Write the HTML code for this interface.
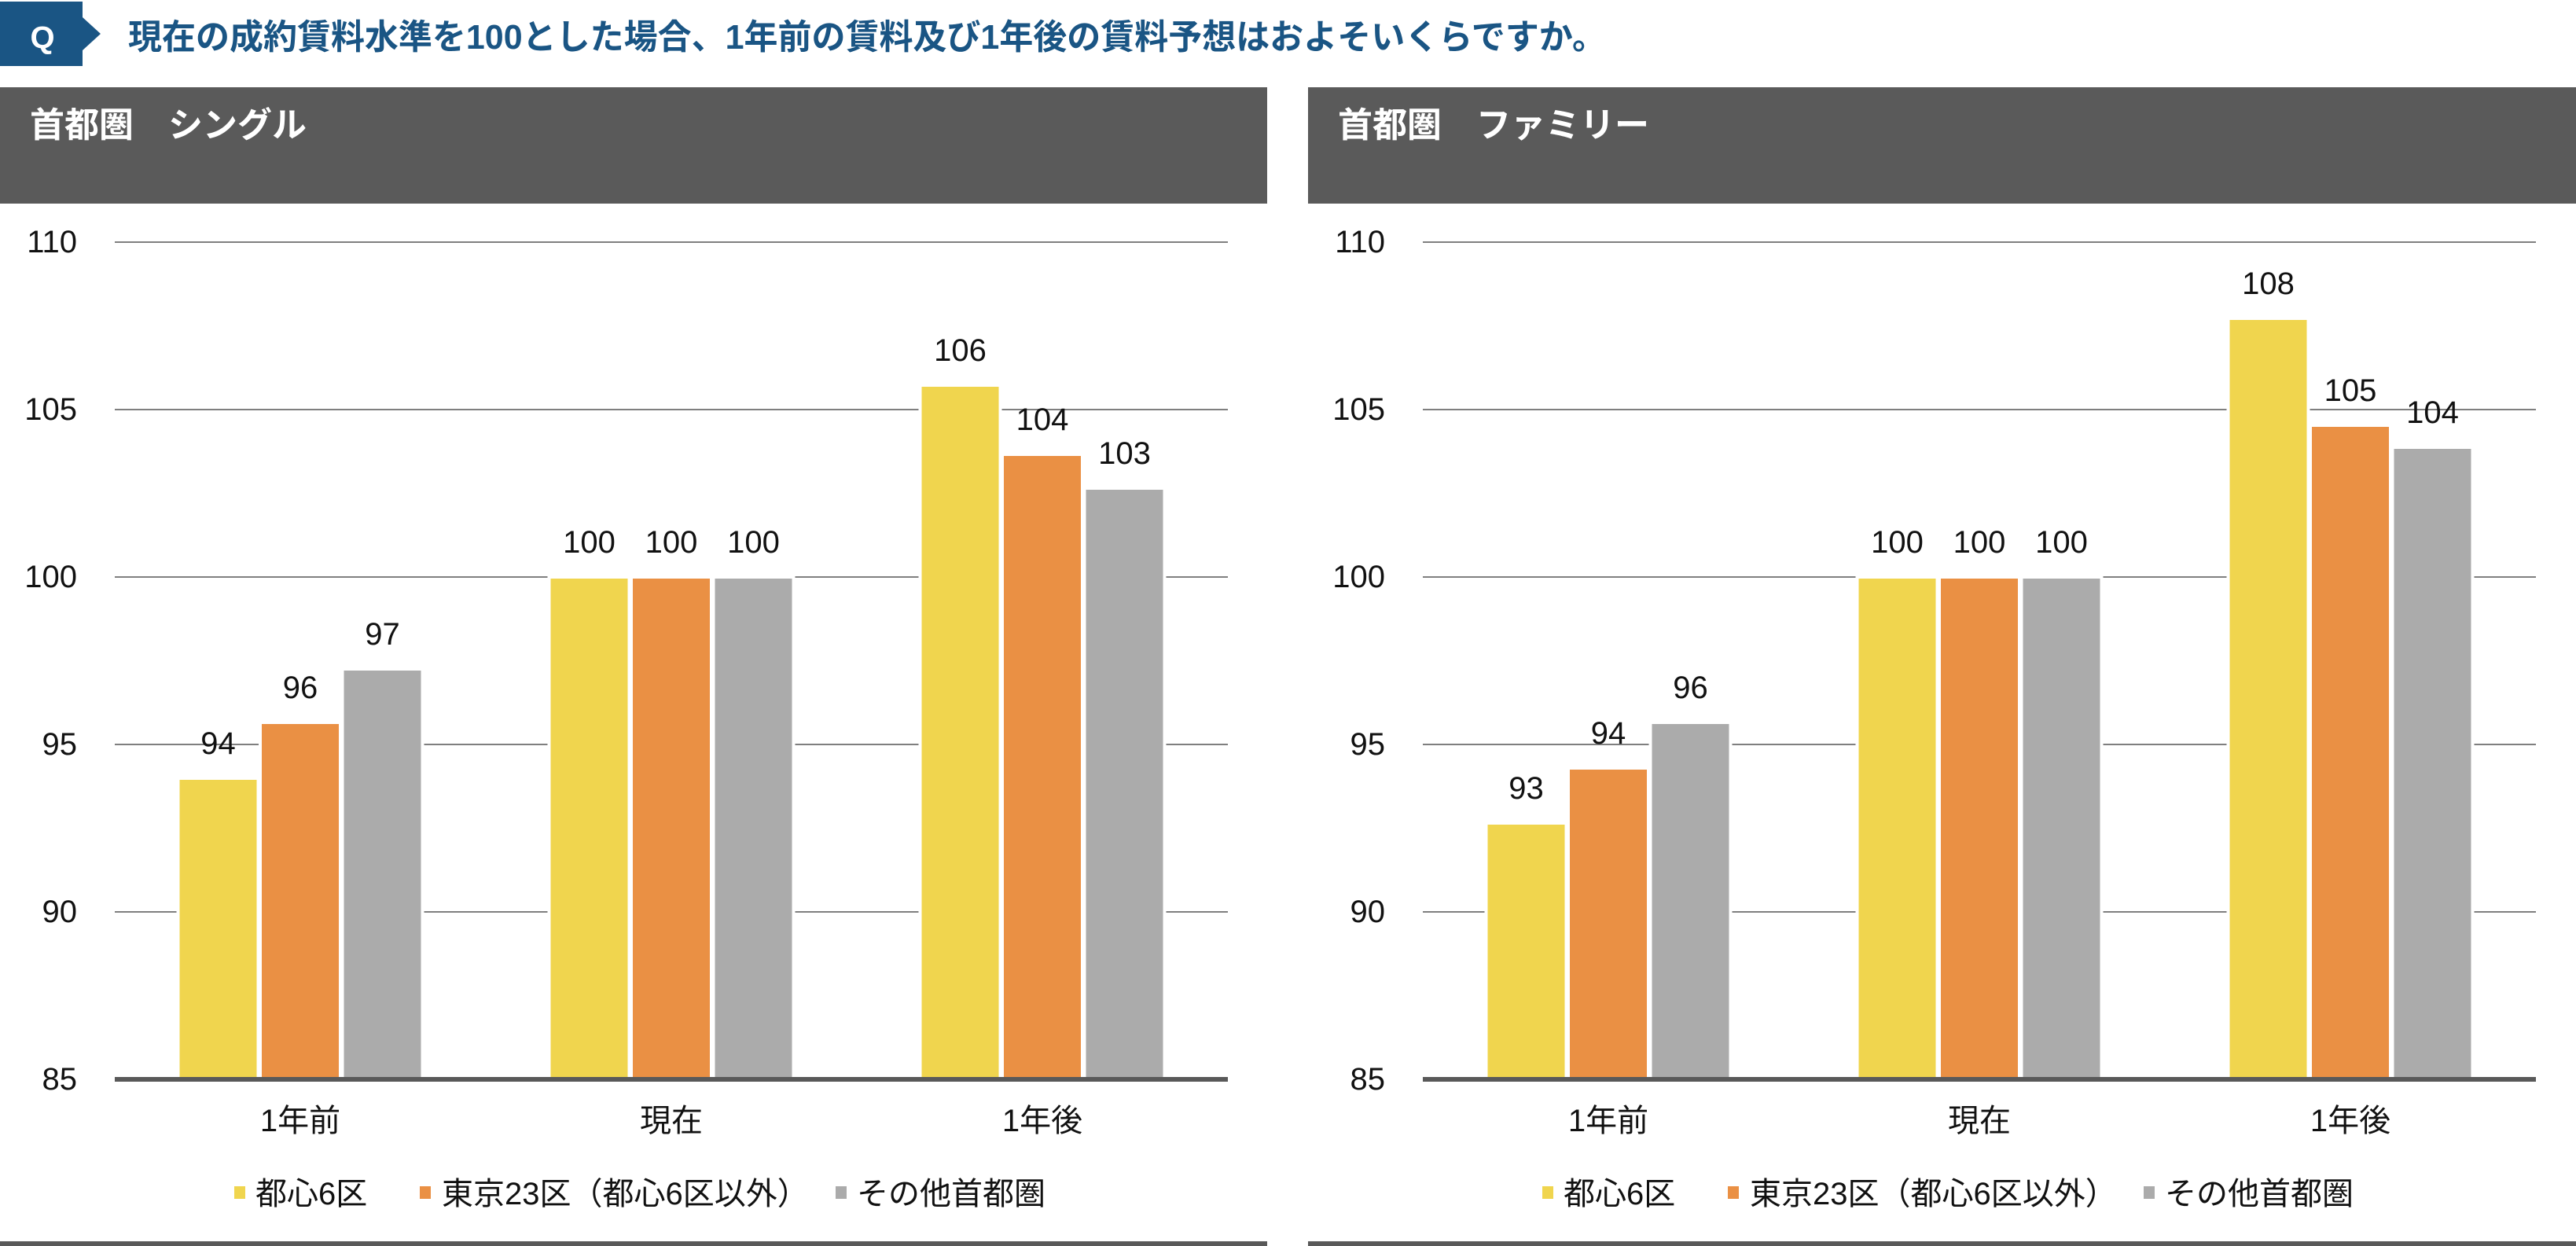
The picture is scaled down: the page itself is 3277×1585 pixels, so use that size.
<!DOCTYPE html>
<html><head><meta charset="utf-8"><style>
html,body{margin:0;padding:0;background:#fff;}
svg{display:block;}
text{font-family:"Liberation Sans","Noto Sans CJK JP",sans-serif;}
</style></head><body>
<svg width="3277" height="1585" viewBox="0 0 3277 1585" xmlns="http://www.w3.org/2000/svg">
<!-- Title -->
<polygon points="0,2 105,2 105,22 128,43 105,64 105,84 0,84" fill="#1a5584"/>
<text x="54" y="61" font-size="40" font-weight="bold" fill="#fff" text-anchor="middle">Q</text>
<text x="163" y="62" font-size="44" font-weight="bold" fill="#1a5584" textLength="1880" lengthAdjust="spacingAndGlyphs">現在の成約賃料水準を100とした場合、1年前の賃料及び1年後の賃料予想はおよそいくらですか。</text>

<g id="left">
<rect x="0" y="111" width="1612" height="148" fill="#5a5a5a"/>
<text x="38" y="174" font-size="44" font-weight="bold" fill="#fff">首都圏　シングル</text>
<g stroke="#7f7f7f" stroke-width="2">
<line x1="146" x2="1562" y1="308" y2="308"/>
<line x1="146" x2="1562" y1="521" y2="521"/>
<line x1="146" x2="1562" y1="734" y2="734"/>
<line x1="146" x2="1562" y1="947" y2="947"/>
<line x1="146" x2="1562" y1="1160" y2="1160"/>
</g>
<g font-size="40" fill="#111" text-anchor="end">
<text x="98" y="321">110</text><text x="98" y="534">105</text><text x="98" y="747">100</text><text x="98" y="960">95</text><text x="98" y="1173">90</text><text x="98" y="1386">85</text>
</g>
<g stroke="#fff" stroke-width="4">
<rect x="226.5" y="990" width="102" height="383" fill="#f0d54e"/>
<rect x="331" y="919" width="102" height="454" fill="#ea9044"/>
<rect x="435.5" y="851" width="102" height="522" fill="#ababab"/>
<rect x="698.5" y="734" width="102" height="639" fill="#f0d54e"/>
<rect x="803" y="734" width="102" height="639" fill="#ea9044"/>
<rect x="907.5" y="734" width="102" height="639" fill="#ababab"/>
<rect x="1170.5" y="490" width="102" height="883" fill="#f0d54e"/>
<rect x="1275" y="578" width="102" height="795" fill="#ea9044"/>
<rect x="1379.5" y="621" width="102" height="752" fill="#ababab"/>
</g>
<line x1="146" x2="1562" y1="1373" y2="1373" stroke="#595959" stroke-width="6"/>
<g font-size="40" fill="#111" text-anchor="middle">
<text x="277.5" y="959">94</text><text x="382" y="888">96</text><text x="486.5" y="820">97</text>
<text x="749.5" y="703">100</text><text x="854" y="703">100</text><text x="958.5" y="703">100</text>
<text x="1221.5" y="459">106</text><text x="1326" y="547">104</text><text x="1430.5" y="590">103</text>
<text x="382" y="1439">1年前</text><text x="854" y="1439">現在</text><text x="1326" y="1439">1年後</text>
</g>
<rect x="298" y="1509" width="14" height="16" fill="#f0d54e"/>
<rect x="534" y="1509" width="14" height="16" fill="#ea9044"/>
<rect x="1063" y="1509" width="14" height="16" fill="#ababab"/>
<g font-size="40" fill="#111">
<text x="325" y="1532">都心6区</text><text x="562" y="1532">東京23区（都心6区以外）</text><text x="1090" y="1532">その他首都圏</text>
</g>
<rect x="0" y="1579" width="1612" height="6" fill="#595959"/>
</g>

<g transform="translate(1664,0)">
<rect x="0" y="111" width="1613" height="148" fill="#5a5a5a"/>
<text x="38" y="174" font-size="44" font-weight="bold" fill="#fff">首都圏　ファミリー</text>
<g stroke="#7f7f7f" stroke-width="2">
<line x1="146" x2="1562" y1="308" y2="308"/>
<line x1="146" x2="1562" y1="521" y2="521"/>
<line x1="146" x2="1562" y1="734" y2="734"/>
<line x1="146" x2="1562" y1="947" y2="947"/>
<line x1="146" x2="1562" y1="1160" y2="1160"/>
</g>
<g font-size="40" fill="#111" text-anchor="end">
<text x="98" y="321">110</text><text x="98" y="534">105</text><text x="98" y="747">100</text><text x="98" y="960">95</text><text x="98" y="1173">90</text><text x="98" y="1386">85</text>
</g>
<g stroke="#fff" stroke-width="4">
<rect x="226.5" y="1047" width="102" height="326" fill="#f0d54e"/>
<rect x="331" y="977" width="102" height="396" fill="#ea9044"/>
<rect x="435.5" y="919" width="102" height="454" fill="#ababab"/>
<rect x="698.5" y="734" width="102" height="639" fill="#f0d54e"/>
<rect x="803" y="734" width="102" height="639" fill="#ea9044"/>
<rect x="907.5" y="734" width="102" height="639" fill="#ababab"/>
<rect x="1170.5" y="405" width="102" height="968" fill="#f0d54e"/>
<rect x="1275" y="541" width="102" height="832" fill="#ea9044"/>
<rect x="1379.5" y="569" width="102" height="804" fill="#ababab"/>
</g>
<line x1="146" x2="1562" y1="1373" y2="1373" stroke="#595959" stroke-width="6"/>
<g font-size="40" fill="#111" text-anchor="middle">
<text x="277.5" y="1016">93</text><text x="382" y="946">94</text><text x="486.5" y="888">96</text>
<text x="749.5" y="703">100</text><text x="854" y="703">100</text><text x="958.5" y="703">100</text>
<text x="1221.5" y="374">108</text><text x="1326" y="510">105</text><text x="1430.5" y="538">104</text>
<text x="382" y="1439">1年前</text><text x="854" y="1439">現在</text><text x="1326" y="1439">1年後</text>
</g>
<rect x="298" y="1509" width="14" height="16" fill="#f0d54e"/>
<rect x="534" y="1509" width="14" height="16" fill="#ea9044"/>
<rect x="1063" y="1509" width="14" height="16" fill="#ababab"/>
<g font-size="40" fill="#111">
<text x="325" y="1532">都心6区</text><text x="562" y="1532">東京23区（都心6区以外）</text><text x="1090" y="1532">その他首都圏</text>
</g>
<rect x="0" y="1579" width="1613" height="6" fill="#595959"/>
</g>
</svg>
</body></html>
